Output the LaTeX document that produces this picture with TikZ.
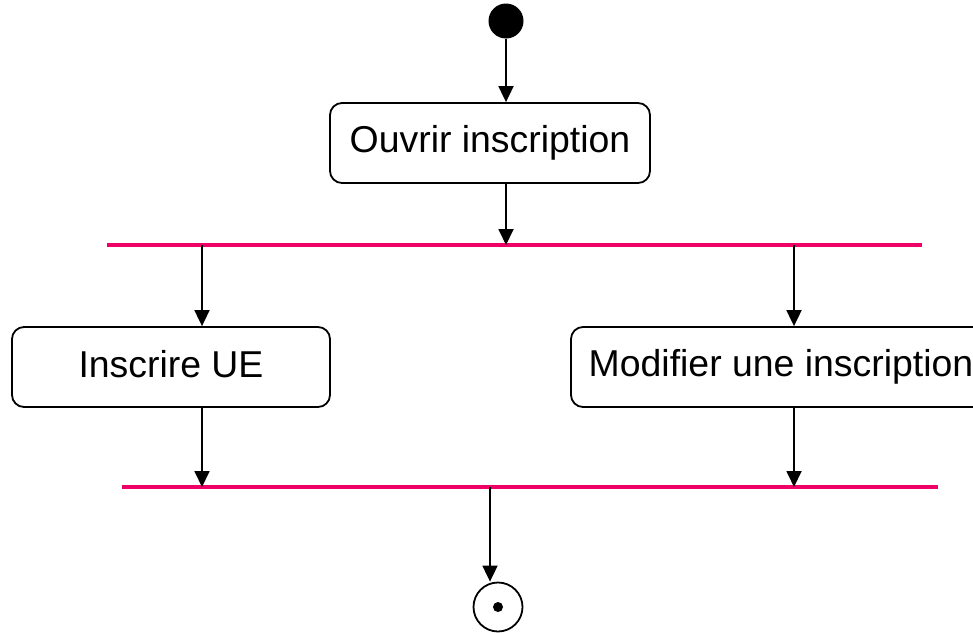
\documentclass[tikz,border=0pt]{standalone}
\usepackage{fontspec}
\setmainfont{Liberation Sans}
\usetikzlibrary{arrows.meta}
\definecolor{barpink}{RGB}{238,0,102}
\begin{document}
\begin{tikzpicture}[x=1pt,y=-1pt,
		action/.style={draw,rounded corners=12pt,line width=1.8pt,minimum height=80pt,inner sep=0pt,font=\fontsize{37.4}{40}\selectfont},
		bar/.style={fill=barpink,inner sep=0pt,minimum height=4pt},
		flow/.style={line width=1.8pt,-{Triangle[length=16pt,width=15pt]}}]
	\useasboundingbox (0,0) rectangle (973,632);
	\node [circle,fill,inner sep=0pt,minimum size=35pt] (start) at (506,21) {};
	\node [action,minimum width=320pt] (ouvrir) at (490,143) {Ouvrir inscription};
	\node [bar,minimum width=815pt] (fork) at (514.5,245) {};
	\node [action,minimum width=318pt] (inscrire) at (171,367) {\raisebox{7pt}{Inscrire UE}};
	\node [action,minimum width=420pt] (modifier) at (781,367) {\raisebox{-2pt}{Modifier une inscription}};
	\node [bar,minimum width=816pt] (join) at (530,487) {};
	\node [circle,draw,line width=1.8pt,inner sep=0pt,minimum size=49pt] (end) at (498,607) {};
	\node [circle,fill,inner sep=0pt,minimum size=10pt] (enddot) at (end) {};
	\draw [flow] (start) -- (start |- ouvrir.north);
	\draw [flow] (start |- ouvrir.south) -- (start |- fork.center);
	\draw [flow] ([xshift=31pt]inscrire.north |- fork.center) -- ([xshift=31pt]inscrire.north);
	\draw [flow] ([xshift=13pt]modifier.north |- fork.center) -- ([xshift=13pt]modifier.north);
	\draw [flow] ([xshift=31pt]inscrire.south) -- ([xshift=31pt]inscrire.south |- join.center);
	\draw [flow] ([xshift=13pt]modifier.south) -- ([xshift=13pt]modifier.south |- join.center);
	\draw [flow] ([xshift=-8pt]end.north |- join.center) -- ([xshift=-8pt]end.north);
\end{tikzpicture}
\end{document}
